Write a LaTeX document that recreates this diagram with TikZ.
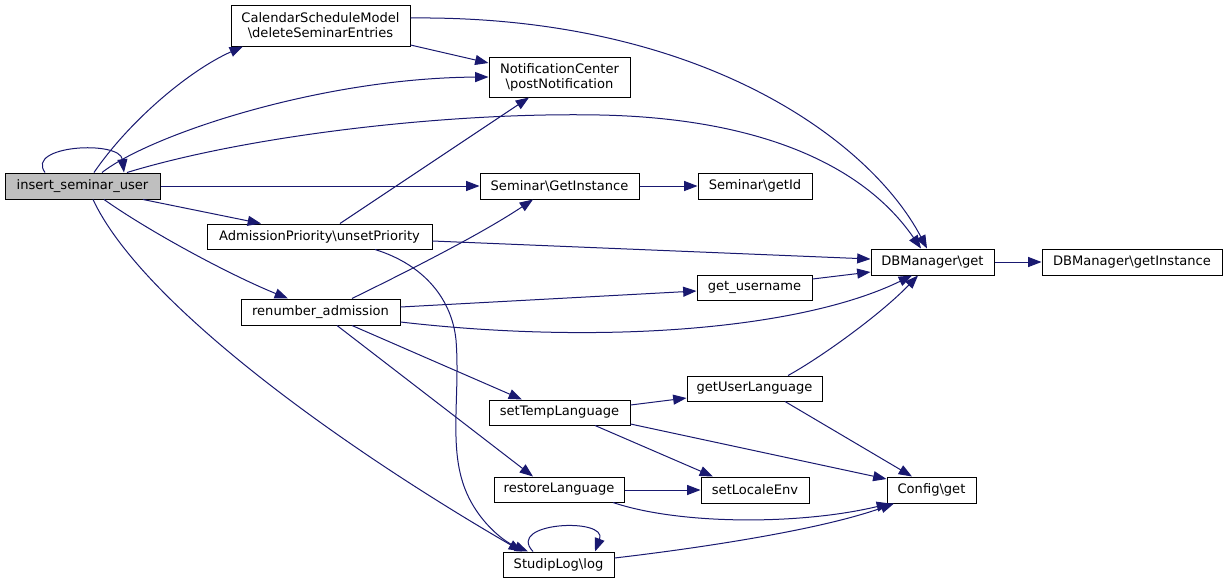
\documentclass[tikz,border=0pt]{standalone}
\usepackage{fontspec}
\setmainfont{DejaVu Sans}
\usetikzlibrary{arrows.meta}
\definecolor{edgec}{HTML}{191970}
\definecolor{rootfill}{HTML}{BFBFBF}
\begin{document}
\begin{tikzpicture}[x=0.75pt,y=-0.75pt,
  box/.style={draw=black, line width=0.75pt, fill=white, inner sep=0pt, align=center,
    font=\fontsize{9.8}{11.3}\selectfont},
  e/.style={draw=edgec, line width=0.75pt, -{Triangle[length=10pt,width=7.5pt]}, edgec}]
\path[use as bounding box, fill=white] (0,0) rectangle (1225,583);

% nodes
\node[box, fill=rootfill, minimum width=116.25pt, minimum height=19.5pt] (ins) at (82.5,186) {insert\_seminar\_user};
\node[box, minimum width=134.25pt, minimum height=30.75pt] (cal) at (320.5,25.5) {CalendarScheduleModel\\\textbackslash deleteSeminarEntries};
\node[box, minimum width=168.75pt, minimum height=18.75pt] (adm) at (319.5,236.5) {AdmissionPriority\textbackslash unsetPriority};
\node[box, minimum width=119.25pt, minimum height=19.5pt] (ren) at (320.5,312) {renumber\_admission};
\node[box, minimum width=105.75pt, minimum height=30pt] (noti) at (559.5,77) {NotificationCenter\\\textbackslash postNotification};
\node[box, minimum width=119.25pt, minimum height=19.5pt] (sgi) at (559.5,186) {Seminar\textbackslash GetInstance};
\node[box, minimum width=105.75pt, minimum height=18.75pt] (stl) at (559.5,412.5) {setTempLanguage};
\node[box, minimum width=97.5pt, minimum height=18.75pt] (rl) at (559,489.5) {restoreLanguage};
\node[box, minimum width=83.25pt, minimum height=18.75pt] (slog) at (558.5,564.5) {StudipLog\textbackslash log};
\node[box, minimum width=85.5pt, minimum height=19.5pt] (sgid) at (755,186) {Seminar\textbackslash getId};
\node[box, minimum width=86.25pt, minimum height=18.75pt] (gun) at (754.5,287.5) {get\_username};
\node[box, minimum width=101.25pt, minimum height=18.75pt] (gul) at (754.5,388.5) {getUserLanguage};
\node[box, minimum width=81pt, minimum height=19.5pt] (sle) at (755,490) {setLocaleEnv};
\node[box, minimum width=92.25pt, minimum height=19.5pt] (dbg) at (932.5,262) {DBManager\textbackslash get};
\node[box, minimum width=66.75pt, minimum height=19.5pt] (cfg) at (931.5,490) {Config\textbackslash get};
\node[box, minimum width=135pt, minimum height=19.5pt] (dbgi) at (1132,262) {DBManager\textbackslash getInstance};

% edges from insert_seminar_user
\draw[e] (ins.north -| 45,0) .. controls (25,145) and (120,140) .. (ins.north -| 124,0);
\draw[e] (ins.north -| 94,0) .. controls (130,120) and (190,70) .. (cal.south -| 243,0);
\draw[e] (ins.north -| 102,0) .. controls (150,135) and (320,78) .. (noti.west |- 0,77);
\draw[e] (ins.north -| 127,0) .. controls (250,135) and (450,112) .. (600,115)
          .. controls (750,118) and (860,160) .. (dbg.north -| 921,0);
\draw[e] (ins.east) -- (sgi.west);
\draw[e] (ins.south -| 143,0) -- (adm.north -| 261,0);
\draw[e] (ins.south -| 104,0) .. controls (150,232) and (230,275) .. (ren.north -| 288,0);
\draw[e] (ins.south -| 93,0) .. controls (140,300) and (330,440) .. (slog.north -| 522,0);

% CalendarScheduleModel
\draw[e] (cal.east |- 0,45) -- (noti.west |- 0,63);
\draw[e] (cal.east |- 0,18) .. controls (700,15) and (870,140) .. (dbg.north -| 927,0);

% AdmissionPriority
\draw[e] (adm.north -| 340,0) -- (noti.south -| 529,0);
\draw[e] (adm.east |- 0,241) -- (dbg.west |- 0,259);
\draw[e] (adm.south -| 375,0) .. controls (425,265) and (452,300) .. (456,340)
          .. controls (460,390) and (450,440) .. (462,480)
          .. controls (472,515) and (500,540) .. (slog.north -| 528,0);

% renumber_admission
\draw[e] (ren.north -| 352,0) .. controls (400,275) and (480,235) .. (sgi.south -| 533,0);
\draw[e] (ren.east |- 0,307) -- (gun.west |- 0,291);
\draw[e] (ren.east |- 0,322) .. controls (600,345) and (800,330) .. (dbg.south -| 912,0);
\draw[e] (ren.south -| 352,0) -- (stl.north -| 522,0);
\draw[e] (ren.south -| 337,0) -- (rl.north -| 533,0);

% others
\draw[e] (sgi.east) -- (sgid.west);
\draw[e] (gun.east |- 0,279) -- (dbg.west |- 0,272);
\draw[e] (dbg.east) -- (dbgi.west);
\draw[e] (stl.east |- 0,405) -- (gul.west |- 0,398);
\draw[e] (stl.south -| 595,0) -- (sle.north -| 713,0);
\draw[e] (stl.east |- 0,424) -- (cfg.west |- 0,479);
\draw[e] (gul.north -| 788,0) .. controls (820,358) and (880,315) .. (dbg.south -| 918,0);
\draw[e] (gul.south -| 785,0) -- (cfg.north -| 912,0);
\draw[e] (rl.east |- 0,490) -- (sle.west |- 0,490);
\draw[e] (rl.south -| 613,0) .. controls (680,525) and (800,525) .. (cfg.south -| 890,0);
\draw[e] (slog.east |- 0,558) .. controls (700,548) and (820,530) .. (cfg.south -| 894,0);
\draw[e] (slog.north -| 533,0) .. controls (505,522) and (608,517) .. (slog.north -| 595,0);
\end{tikzpicture}
\end{document}
